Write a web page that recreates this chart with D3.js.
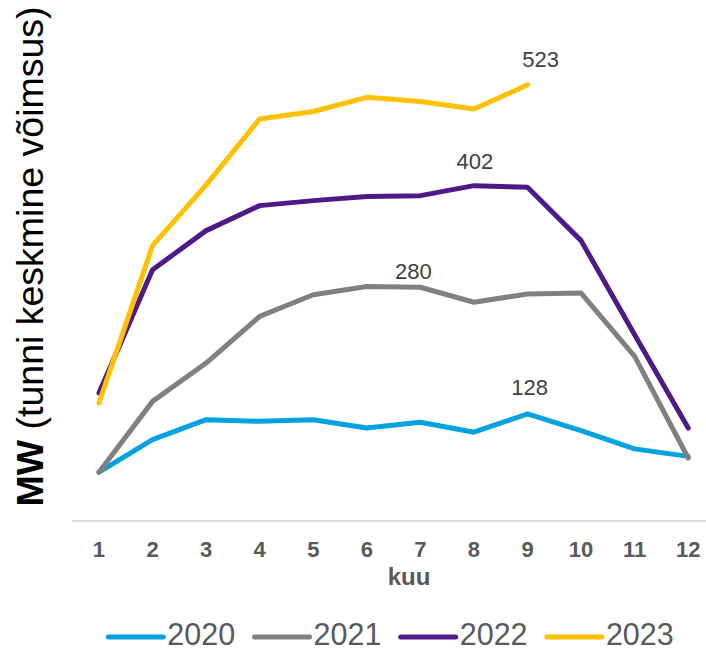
<!DOCTYPE html>
<html>
<head>
<meta charset="utf-8">
<script src="https://cdn.jsdelivr.net/npm/d3@7"></script>
<style>
  html, body { margin: 0; padding: 0; background: #fff; }
  svg { display: block; font-family: "Liberation Sans", Arial, sans-serif; }
</style>
</head>
<body>
<svg id="chart" width="706" height="651"></svg>
<script>
// Months and yearly series (average hourly output, MW)
const months = [1, 2, 3, 4, 5, 6, 7, 8, 9, 10, 11, 12];
const years = ["2020", "2021", "2022", "2023"];
const values2020 = [58, 97, 121, 119, 121, 111, 118, 106, 128, 108, 86, 77];
const values2021 = [58, 143, 189, 245, 271, 281, 280, 262, 272, 273, 197, 75];
const values2022 = [153, 301, 348, 378, 384, 389, 390, 402, 400, 336, 223, 111];
const values2023 = [141, 330, 403, 482, 491, 508, 503, 494, 523];
const colors = ["#00A3E0", "#808080", "#4E1A87", "#FFC000"];
// Points that carry a value label: [year, month]
const labelled = [["2023", 9], ["2022", 8], ["2021", 7], ["2020", 9]];

const seriesValues = [values2020, values2021, values2022, values2023];
const series = years.map((y, i) => ({
  year: y,
  color: colors[i],
  points: seriesValues[i].map((v, j) => ({ month: months[j], value: v }))
}));

const svg = d3.select("#chart");
const font = "'Liberation Sans', Arial, sans-serif";

const x = d3.scaleBand().domain(months).range([72.2, 715]).padding(0);
const cx = m => x(m) + x.bandwidth() / 2;
const y = d3.scaleLinear().domain([0, 600]).range([520.5, 520.5 - 600 * 0.833]);

// Category axis: baseline plus bold month numbers
const xAxis = d3.axisBottom(x).tickSize(0).tickPadding(0);
const gx = svg.append("g").attr("transform", `translate(0,${y(0)})`).call(xAxis);
gx.select(".domain").remove();
svg.append("line")
  .attr("x1", 72).attr("x2", 706)
  .attr("y1", 521).attr("y2", 521)
  .attr("stroke", "#d9d9d9").attr("stroke-width", 2);
gx.selectAll(".tick text")
  .attr("dy", null)
  .attr("y", 36.5)
  .attr("fill", "#595959")
  .style("font-family", font)
  .style("font-size", "22px")
  .style("font-weight", "bold");

svg.append("text")
  .attr("x", 409).attr("y", 585)
  .attr("text-anchor", "middle")
  .attr("fill", "#595959")
  .style("font-size", "24px")
  .style("font-weight", "bold")
  .text("kuu");

// Axis title
const yt = svg.append("text")
  .attr("transform", "translate(43,256.5) rotate(-90)")
  .attr("text-anchor", "middle")
  .attr("fill", "#000")
  .style("font-size", "37.5px");
yt.append("tspan").style("font-weight", "bold").text("MW");
yt.append("tspan").text(" (tunni keskmine võimsus)");

// Lines
const line = d3.line().x(d => cx(d.month)).y(d => y(d.value));
svg.append("g").selectAll("path")
  .data(series)
  .join("path")
  .attr("d", d => line(d.points))
  .attr("fill", "none")
  .attr("stroke", d => d.color)
  .attr("stroke-width", 5)
  .attr("stroke-linejoin", "round")
  .attr("stroke-linecap", "round");

// Value labels
const labelOffset = { "2023": [13, -18], "2022": [1, -17], "2021": [-7, -8], "2020": [2, -19] };
svg.append("g").selectAll("text")
  .data(labelled)
  .join("text")
  .attr("x", d => cx(d[1]) + labelOffset[d[0]][0])
  .attr("y", d => {
    const s = series.find(s => s.year === d[0]);
    return y(s.points[d[1] - 1].value) + labelOffset[d[0]][1];
  })
  .attr("text-anchor", "middle")
  .attr("fill", "#404040")
  .style("font-size", "22px")
  .text(d => series.find(s => s.year === d[0]).points[d[1] - 1].value);

// Legend
const legend = svg.append("g").selectAll("g")
  .data(series)
  .join("g")
  .attr("transform", (d, i) => `translate(${108.3 + i * 146.2},637)`);
legend.append("line")
  .attr("x1", 0).attr("x2", 55)
  .attr("stroke", d => d.color)
  .attr("stroke-width", 5)
  .attr("stroke-linecap", "round");
legend.append("text")
  .attr("x", 59).attr("y", 7.5)
  .attr("fill", "#595959")
  .style("font-size", "30.5px")
  .text(d => d.year);
</script>
</body>
</html>
